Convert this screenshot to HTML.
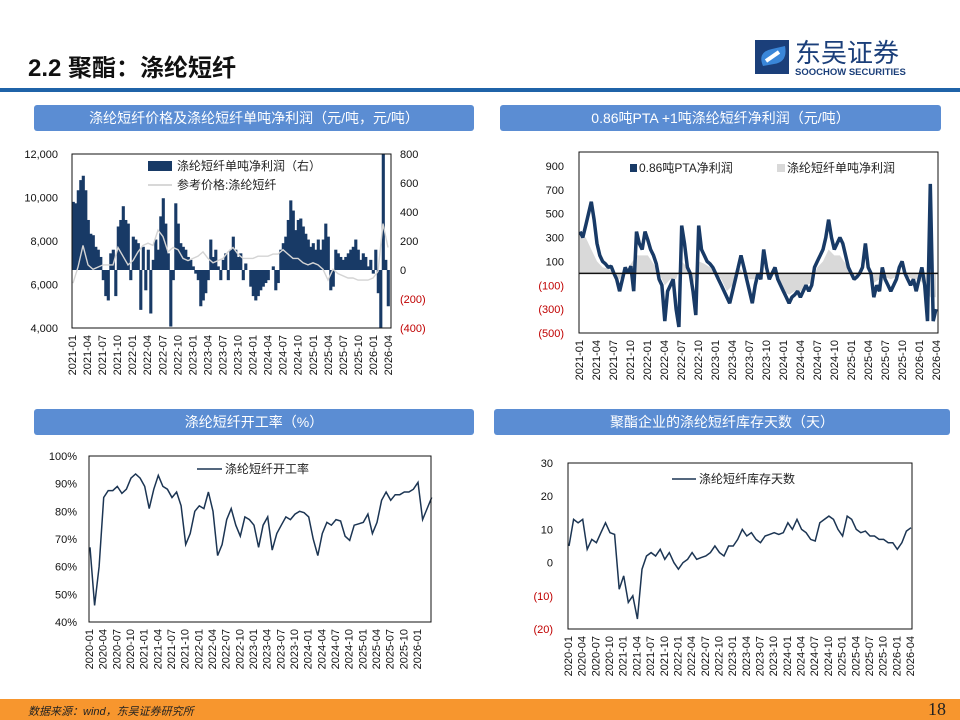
<!DOCTYPE html>
<html><head><meta charset="utf-8">
<style>
body{margin:0;width:960px;height:720px;overflow:hidden;background:#fff;font-family:"Liberation Sans","Noto Sans CJK SC",sans-serif;position:relative}
.abs{position:absolute}
.bar{position:absolute;background:#5b8dd3;color:#fff;font-size:14px;text-align:center;line-height:26px;border-radius:3px;height:26px}
svg text{font-family:"Liberation Sans","Noto Sans CJK SC",sans-serif}
</style></head><body>
<div class="abs" style="left:28px;top:48px;font-size:24px;font-weight:bold;color:#111">2.2 聚酯：涤纶短纤</div>
<div class="abs" style="left:755px;top:36px;width:185px;height:42px">
<svg width="185" height="42"><rect x="0" y="4" width="34" height="34" fill="#1b3f7a"/><path d="M8 30 Q2 16 17 13 L30 10 Q33 26 19 28 Z" fill="#3a86d8"/><path d="M11 25 L24 16" stroke="#fff" stroke-width="4"/>
<text x="40" y="26" font-size="26" fill="#1b3f7a" font-family="'Noto Sans CJK SC',sans-serif">东吴证券</text>
<text x="40" y="39" font-size="9.5" font-weight="bold" fill="#1b3f7a">SOOCHOW SECURITIES</text></svg></div>
<div class="abs" style="left:0;top:88px;width:960px;height:4px;background:#1f63a8"></div>
<div class="bar" style="left:34px;top:105px;width:440px">涤纶短纤价格及涤纶短纤单吨净利润（元/吨，元/吨）</div>
<div class="bar" style="left:500px;top:105px;width:441px">0.86吨PTA +1吨涤纶短纤净利润（元/吨）</div>
<div class="bar" style="left:34px;top:409px;width:440px">涤纶短纤开工率（%）</div>
<div class="bar" style="left:494px;top:409px;width:456px">聚酯企业的涤纶短纤库存天数（天）</div>
<svg id="chart" class="abs" style="left:0;top:0" width="960" height="720"></svg>
<div class="abs" style="left:0;top:699px;width:960px;height:21px;background:#f7962e"></div>
<div class="abs" style="left:28px;top:703px;font-size:11px;font-style:italic;color:#222">数据来源：wind，东吴证券研究所</div>
<div class="abs" style="left:928px;top:699px;font-size:18px;font-family:'Liberation Serif',serif;color:#222">18</div>
<script>
// Chart 1 data
const c1Profit=[470,460,550,620,650,550,345,250,240,160,140,90,-70,-180,-210,115,140,-180,300,345,440,345,320,-70,230,210,185,-275,160,-140,140,-300,70,210,140,370,495,320,115,-390,-70,460,320,185,160,140,90,70,25,-25,-70,-250,-210,-160,-70,210,90,140,25,-70,70,115,-70,140,230,140,90,115,-70,45,0,-115,-180,-210,-180,-140,-115,-90,-70,0,25,-140,-90,140,185,230,345,480,410,275,345,355,300,250,210,160,185,140,210,140,210,320,230,-140,-115,140,115,90,70,90,115,140,160,210,140,70,115,90,25,70,-25,140,-160,-400,800,70,-250];
const c1Price=[6060,6800,7800,6900,6700,6800,6900,6900,6900,7700,7300,6900,7100,7500,7800,7900,7800,8500,8200,7500,7700,7600,7200,7100,7200,7300,7500,7200,7000,7100,7200,7500,7700,7400,7200,7200,7200,7300,7300,7300,7400,7400,7600,7400,7200,7200,7000,6900,7000,6900,6700,6200,6700,6500,6400,6300,6300,6200,6200,6200,6300,6600,8800,7700];
const c1LeftTicks=[4000,6000,8000,10000,12000];
const c1LeftLabels=["4,000","6,000","8,000","10,000","12,000"];
const c1RightTicks=[-400,-200,0,200,400,600,800];
const c1RightLabels=["(400)","(200)","0","200","400","600","800"];
const xLabels21=["2021-01","2021-04","2021-07","2021-10","2022-01","2022-04","2022-07","2022-10","2023-01","2023-04","2023-07","2023-10","2024-01","2024-04","2024-07","2024-10","2025-01","2025-04","2025-07","2025-10","2026-01","2026-04"];
// Chart 2 data
const c2PTA=[350,300,400,500,600,450,250,150,100,80,50,60,0,-50,-150,-50,50,0,60,-150,350,250,200,350,280,200,150,80,-50,-100,-400,-150,-100,-50,-300,-450,400,250,50,0,-150,-350,400,200,150,100,80,50,0,-50,-100,-150,-200,-250,-150,-50,50,150,50,-50,-150,-250,-100,0,-50,200,50,-50,0,50,-50,-100,-150,-200,-250,-200,-180,-150,-200,-150,-100,-150,-100,50,100,150,200,300,450,300,200,250,300,250,150,50,0,-50,-30,0,50,250,50,0,-200,-100,-150,50,-50,-100,-150,-100,-50,50,100,0,-50,-100,-50,-150,-50,50,-100,-400,750,-400,-300];
const c2Fiber=[300,300,200,100,50,40,0,-50,0,80,150,150,150,80,0,-100,-50,-50,100,50,-100,100,80,50,0,-50,-150,-100,50,0,-50,-50,0,0,0,-50,-150,-180,-150,-150,-100,-80,50,100,200,150,150,80,0,-30,0,0,-80,-50,-30,-50,-30,0,-30,-50,-50,-100,-200,-200];
const c2Ticks=[-500,-300,-100,100,300,500,700,900];
const c2Labels=["(500)","(300)","(100)","100","300","500","700","900"];
// Chart 3 data
const c3Rate=[67,46,60,85,87.5,87.5,89,86.5,88,92,93.5,92,89,81,88,93,89,88,85,87,82,68,72,80,82,81,87,80,64,68,77,81,75,71,78,77,75,67,75,78,66,72,75,78,77,79,80,79.5,78,70,64,72,76,75,77,76.5,71,69.5,75,75.5,76,79,72,76,84,87,84,86,86,87,87,88,90.5,77,81,85];
const c3Ticks=[40,50,60,70,80,90,100];
const c3Labels=["40%","50%","60%","70%","80%","90%","100%"];
const xLabels20a=["2020-01","2020-04","2020-07","2020-10","2021-01","2021-04","2021-07","2021-10","2022-01","2022-04","2022-07","2022-10","2023-01","2023-04","2023-07","2023-10","2024-01","2024-04","2024-07","2024-10","2025-01","2025-04","2025-07","2025-10","2026-01"];
// Chart 4 data
const c4Days=[5,13,12,13,4,7,6,9,12,9,8.5,-8,-4,-12,-10,-17,-2,2,3,2,4,1,3,0,-2,0,1,3,1,1.5,2,3,5,3,2,5,5,7,10,8,9,7,6,8,8.5,9,8.5,9,12,10,13,10,9,7,6.5,12,13,14,13,10,8,14,13,10,9,9.5,8,8,7,7,6,6,4,6,9.5,10.5];
const c4Ticks=[-20,-10,0,10,20,30];
const c4Labels=["(20)","(10)","0","10","20","30"];
const xLabels20b=xLabels20a.concat(["2026-04"]);

const NS="http://www.w3.org/2000/svg";
const svg=document.getElementById('chart');
function mk(tag,attrs,parent){const e=document.createElementNS(NS,tag);for(const k in attrs)e.setAttribute(k,attrs[k]);(parent||svg).appendChild(e);return e;}
function txt(x,y,s,anchor,color,size,parent){const t=mk('text',{x:x,y:y,'text-anchor':anchor,fill:color,'font-size':size||11},parent);t.textContent=s;return t;}
function lin(d0,d1,r0,r1){return v=>r0+(v-d0)/(d1-d0)*(r1-r0);}
function xTicks(g,labels,x0,step,yb){labels.forEach((l,i)=>{const x=x0+i*step;const t=mk('text',{transform:`translate(${x+4},${yb+4}) rotate(-90)`,'text-anchor':'end','font-size':11,fill:'#111'},g);t.textContent=l;

});}
function frame(g,L,T,R,B){const r=mk('rect',{x:L,y:T,width:R-L,height:B-T,fill:'none',stroke:'#111','stroke-width':1},g);

}
function yTicks(g,ticks,labels,sy,x,anchor){ticks.forEach((v,i)=>{const t=txt(x,sy(v)+4,labels[i],anchor,v<0?'#c00000':'#111',11,g);

});}
function linePath(arr,sx,sy){return arr.map((v,i)=>(i?'L':'M')+sx(i).toFixed(1)+' '+sy(v).toFixed(1)).join(' ');}

// ---------- Chart 1 ----------
(function(){
const g=mk('g',{});


const L=72,R=391,T=154,B=328;
const syL=lin(4000,12000,B,T), syR=lin(-400,800,B,T);
const sxB=lin(0,126,L+1,388), sxP=lin(0,63,L+1,388);
const step=(388-L)/126;
c1Profit.forEach((v,i)=>{const y0=syR(0),y1=syR(v);const r=mk('rect',{x:sxB(i)-step/2,y:Math.min(y0,y1),width:step+0.6,height:Math.abs(y1-y0),fill:'#183a66'},g);

});
const p=mk('path',{d:linePath(c1Price,sxP,syL),fill:'none',stroke:'#d4d4d4','stroke-width':1.4},g);


frame(g,L,T,R,B);
yTicks(g,c1LeftTicks,c1LeftLabels,syL,58,'end');
yTicks(g,c1RightTicks,c1RightLabels,syR,400,'start');
xTicks(g,xLabels21,L,(388-L)/21,B+3);
const lg=mk('g',{},g);
mk('rect',{x:148,y:161,width:24,height:10,fill:'#183a66'},lg);
txt(177,170,'涤纶短纤单吨净利润（右）','start','#222',12,lg);
mk('line',{x1:148,y1:185,x2:172,y2:185,stroke:'#ccc','stroke-width':1.5},lg);
txt(177,189,'参考价格:涤纶短纤','start','#222',12,lg);
})();

// ---------- Chart 2 ----------
(function(){
const g=mk('g',{});


const L=579,R=938,T=152,B=333;
const sy=lin(-500,1017,B,T);
const sxA=lin(0,126,L+1,R-2), sxF=lin(0,63,L+1,R-2);
const z=sy(0);
const fa=mk('path',{d:linePath(c2Fiber,sxF,sy)+` L${sxF(63)} ${z} L${sxF(0)} ${z} Z`,fill:'#d9d9d9',stroke:'none'},g);


const pa=mk('path',{d:linePath(c2PTA,sxA,sy),fill:'none',stroke:'#183a66','stroke-width':3.5,'stroke-linejoin':'bevel'},g);


const zl=mk('line',{x1:L,y1:z,x2:R,y2:z,stroke:'#111','stroke-width':1.5},g);


frame(g,L,T,R,B);
yTicks(g,c2Ticks,c2Labels,sy,564,'end');
xTicks(g,xLabels21,L,(R-2-L)/21,B+3);
const lg=mk('g',{},g);
mk('rect',{x:630,y:164,width:7,height:8,fill:'#183a66'},lg);
txt(639,172,'0.86吨PTA净利润','start','#222',12,lg);
mk('rect',{x:777,y:164,width:8,height:8,fill:'#d9d9d9'},lg);
txt(787,172,'涤纶短纤单吨净利润','start','#222',12,lg);
})();

// ---------- Chart 3 ----------
(function(){
const g=mk('g',{});


const L=89,R=431,T=456,B=622;
const sy=lin(40,100,B,T);
const mStep=(417-L)/72;
const sx=i=>L+1+i*mStep;
const p=mk('path',{d:linePath(c3Rate,sx,sy),fill:'none',stroke:'#1c3553','stroke-width':1.5},g);


frame(g,L,T,R,B);
yTicks(g,c3Ticks,c3Labels,sy,77,'end');
xTicks(g,xLabels20a,L,mStep*3,B+3);
const lg=mk('g',{},g);
mk('line',{x1:197,y1:469,x2:222,y2:469,stroke:'#1c3553','stroke-width':1.5},lg);
txt(225,473,'涤纶短纤开工率','start','#222',12,lg);
})();

// ---------- Chart 4 ----------
(function(){
const g=mk('g',{});


const L=568,R=912,T=463,B=629;
const sy=lin(-20,30,B,T);
const mStep=(910-L)/75;
const sx=i=>L+1+i*mStep;
const p=mk('path',{d:linePath(c4Days,sx,sy),fill:'none',stroke:'#1c3553','stroke-width':1.5},g);


frame(g,L,T,R,B);
yTicks(g,c4Ticks,c4Labels,sy,553,'end');
xTicks(g,xLabels20b,L,mStep*3,B+3);
const lg=mk('g',{},g);
mk('line',{x1:672,y1:479,x2:696,y2:479,stroke:'#1c3553','stroke-width':1.5},lg);
txt(699,483,'涤纶短纤库存天数','start','#222',12,lg);
})();
</script>
</body></html>
